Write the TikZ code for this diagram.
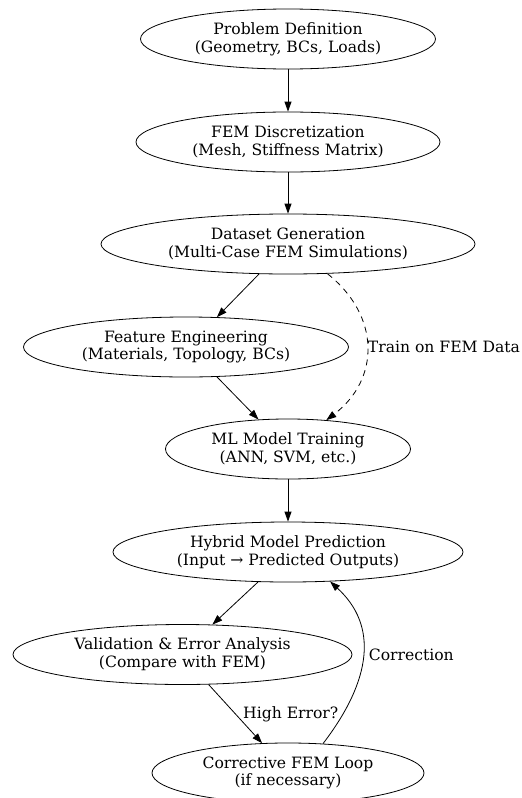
\documentclass[tikz,border=0pt]{standalone}
\usepackage{fontspec}
\setmainfont{DejaVu Serif}
\usetikzlibrary{arrows.meta,shapes.geometric}

\begin{document}
\begin{tikzpicture}[
  x=1pt,y=-1pt,
  every node/.style={font=\fontsize{15.6}{17.8}\selectfont},
  stage/.style={draw,ellipse,inner sep=0pt,align=center,minimum height=60pt,line width=0.8pt},
  arr/.style={-{Triangle[length=10pt,width=7pt]},line width=0.8pt},
  lbl/.style={right,inner sep=0.5pt},
]
  \useasboundingbox (0,0) rectangle (522,798);

  % FEM side
  \node[stage,minimum width=295pt] (problem) at (288,39)
    {Problem Definition\\(Geometry, BCs, Loads)};
  \node[stage,minimum width=304pt] (fem) at (288,142)
    {FEM Discretization\\(Mesh, Stiffness Matrix)};
  \node[stage,minimum width=374pt] (dataset) at (288,244)
    {Dataset Generation\\(Multi-Case FEM Simulations)};

  % ML side
  \node[stage,minimum width=325pt] (feature) at (186,347)
    {Feature Engineering\\(Materials, Topology, BCs)};
  \node[stage,minimum width=245pt] (mlmodel) at (288,449)
    {ML Model Training\\(ANN, SVM, etc.)};
  \node[stage,minimum width=350pt] (hybrid) at (288,552)
    {Hybrid Model Prediction\\(Input → Predicted Outputs)};

  % Checking
  \node[stage,minimum width=339pt] (validation) at (182.5,654.5)
    {Validation \& Error Analysis\\(Compare with FEM)};
  \node[stage,minimum width=272pt] (corrective) at (288,773)
    {Corrective FEM Loop\\(if necessary)};

  % Arrows
  \draw[arr] (problem) -- (fem);
  \draw[arr] (fem) -- (dataset);
  \draw[arr] (dataset.-134) -- (feature.44);
  \draw[arr] (feature.-44) -- (mlmodel.135);
  \draw[arr] (mlmodel) -- (hybrid);
  \draw[arr] (hybrid.-135) -- (validation.45);
  \draw[arr] (validation.-49) -- (corrective.131)
    node[pos=0.5,lbl,xshift=7pt] {High Error?};

  % Training data and correction loop
  \draw[arr,dash pattern=on 6pt off 5pt] (dataset.-37)
    .. controls +(53,42) and +(54,-41) .. (mlmodel.37)
    node[pos=0.5,lbl] {Train on FEM Data};
  \draw[arr] (corrective.40)
    .. controls +(49,-64) and +(48,44) .. (hybrid.-35)
    node[pos=0.5,lbl,xshift=5pt] {Correction};
\end{tikzpicture}
\end{document}
